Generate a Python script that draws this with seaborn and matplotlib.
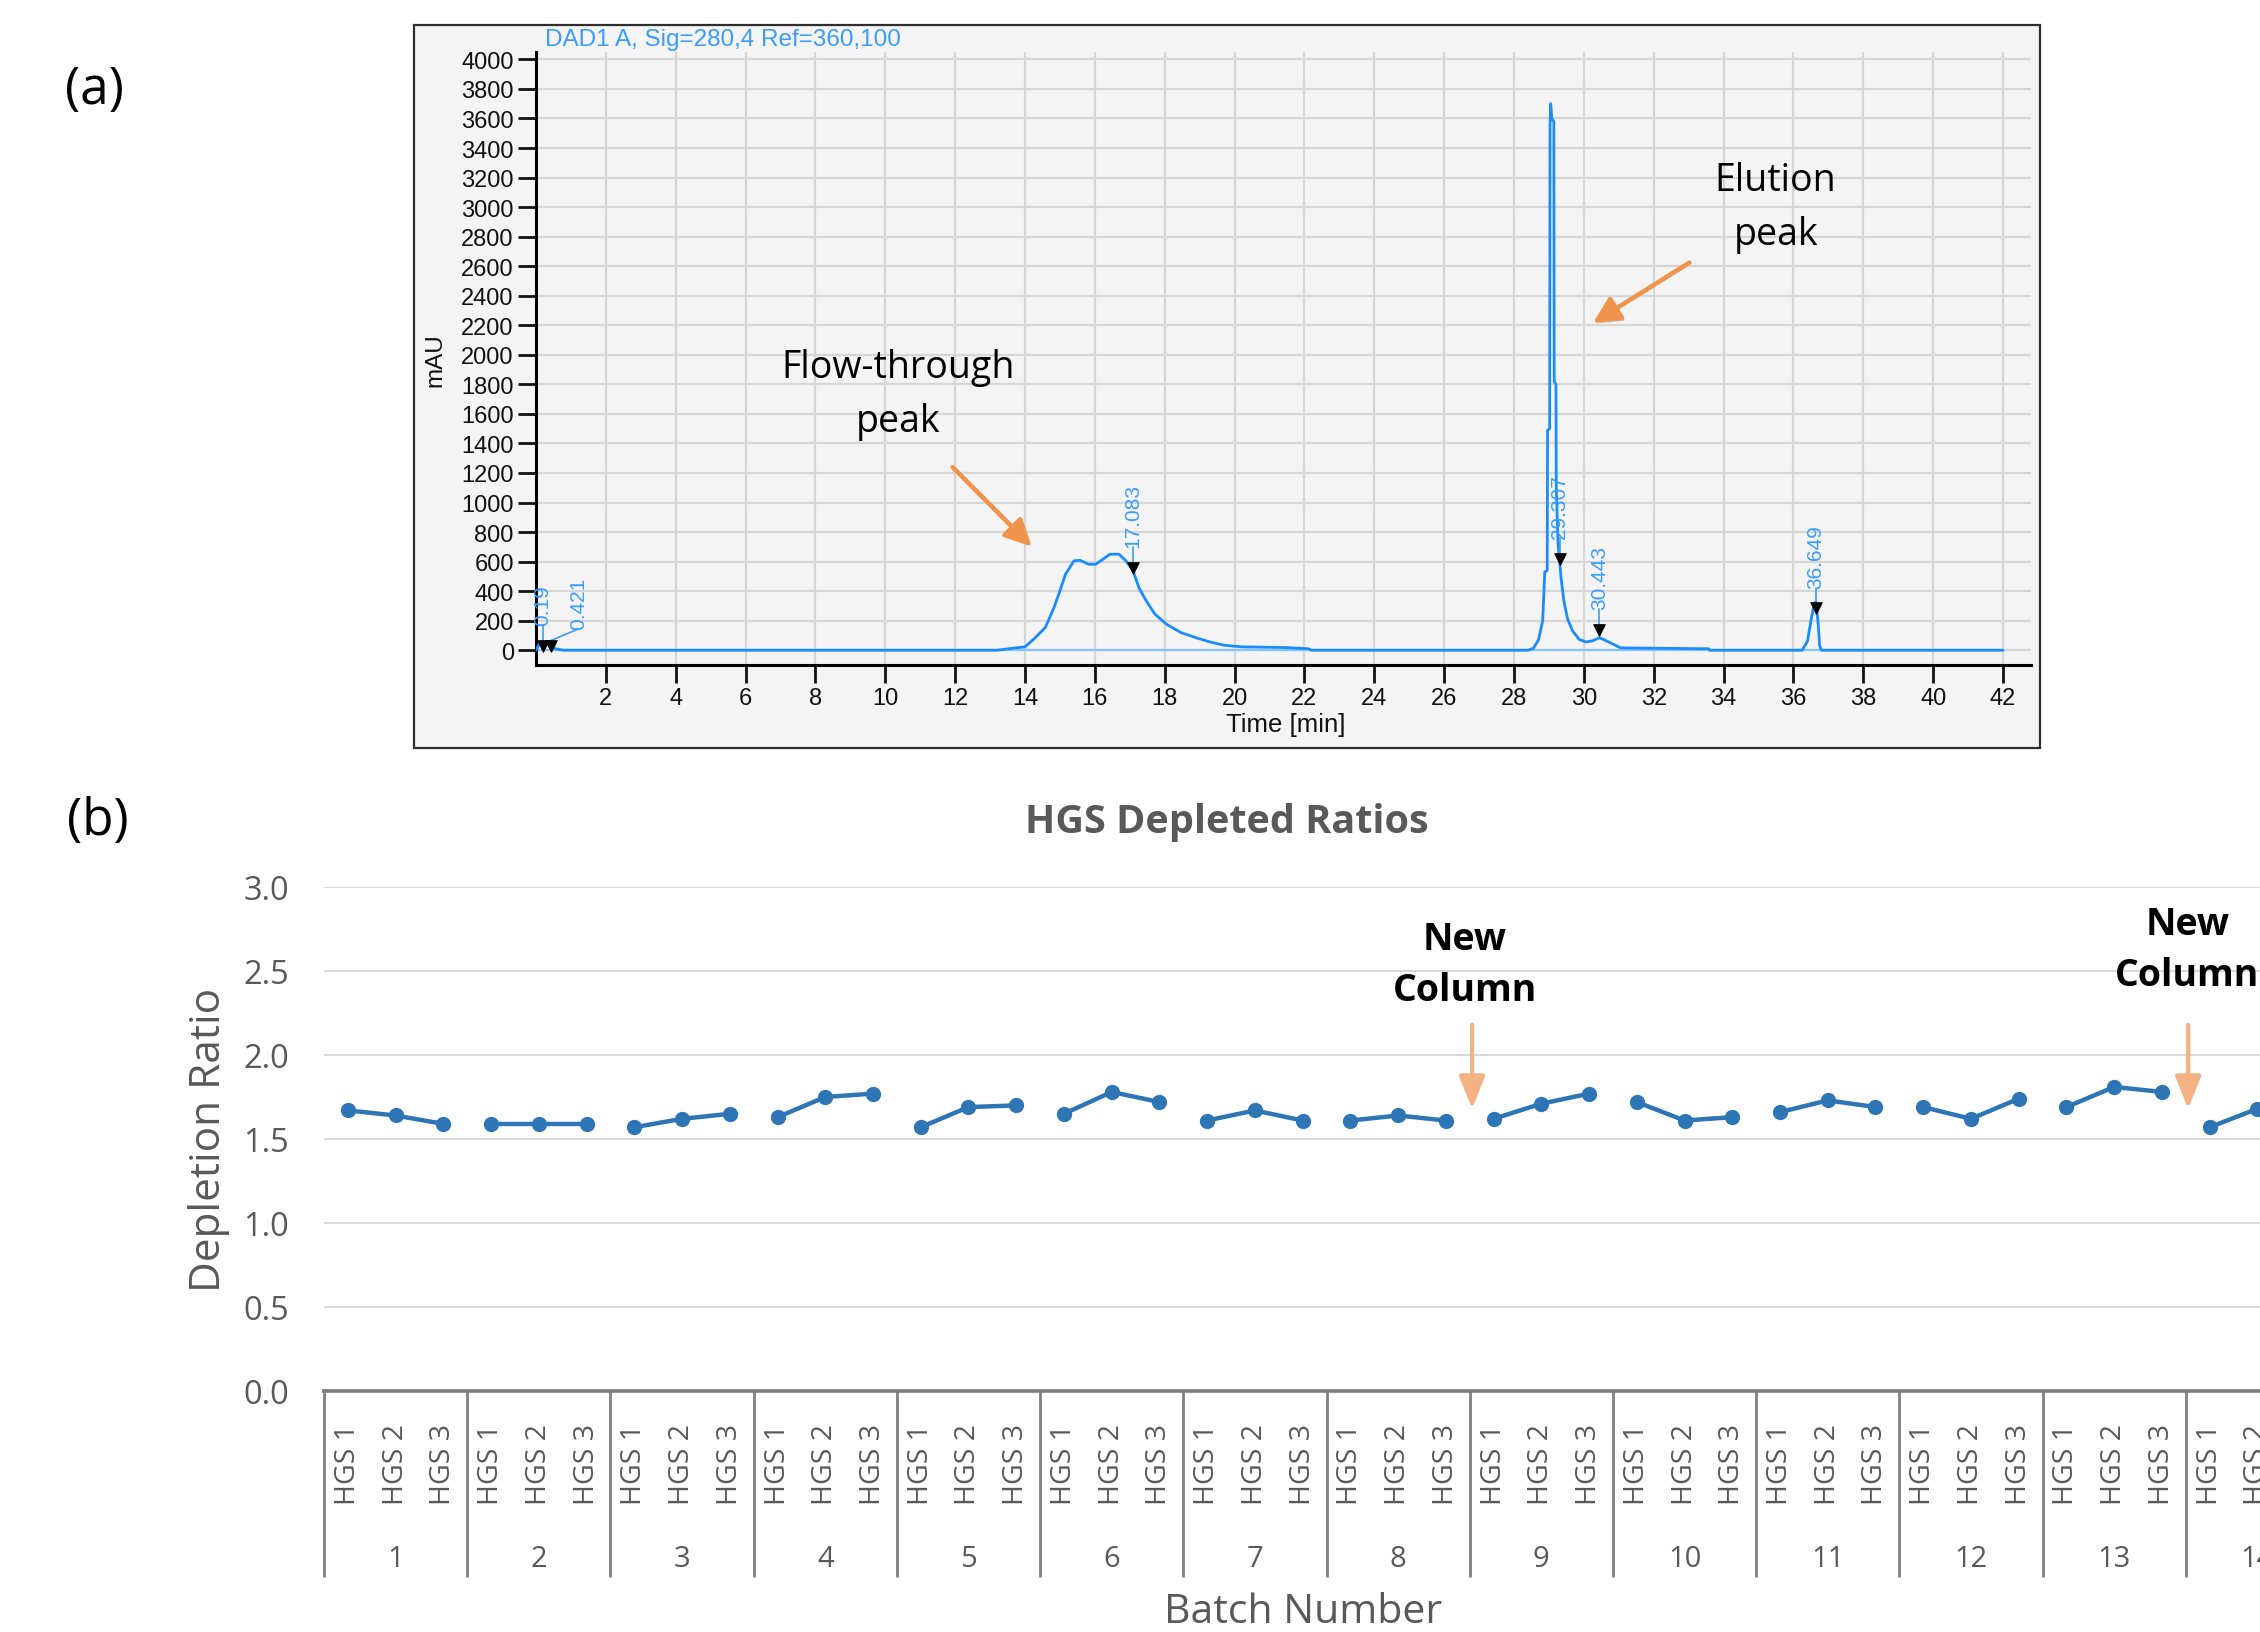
import numpy as np
import pandas as pd
import matplotlib
matplotlib.use("Agg")
import matplotlib.pyplot as plt
import matplotlib.patheffects as pe
from matplotlib.patches import Rectangle
import seaborn as sns

sns.set_style("white")
plt.rcParams["font.family"] = ["Open Sans", "DejaVu Sans"]

W, H = 2260, 1633

# ---------------- (a) HPLC chromatogram, DAD1 A ----------------
time_min = [0.00, 0.10, 0.19, 0.30, 0.42, 0.55, 0.80,
            13.20, 13.67, 14.00, 14.25, 14.58, 14.83, 15.00, 15.16, 15.40, 15.57,
            15.82, 16.02, 16.23, 16.43, 16.69, 16.89, 17.09, 17.26, 17.47, 17.72,
            18.05, 18.46, 18.88, 19.29, 19.70, 20.20, 21.50, 22.10, 22.20,
            28.40, 28.55, 28.70, 28.82, 28.88, 28.95, 28.96, 29.02, 29.03, 29.05,
            29.08, 29.14, 29.15, 29.20, 29.21, 29.26, 29.35, 29.43, 29.53, 29.67,
            29.86, 30.05, 30.24, 30.45, 30.76, 31.05, 33.57, 33.60,
            36.25, 36.40, 36.50, 36.58, 36.64, 36.70, 36.75, 36.80, 42.00]
signal_mau = [0, 45, 55, 40, 35, 10, 0,
              0, 14, 23, 75, 153, 289, 402, 515, 605, 609,
              582, 582, 616, 650, 650, 605, 540, 424, 334, 244,
              176, 120, 86, 56, 34, 23, 18, 10, 0,
              0, 12, 70, 200, 530, 540, 1490, 1500, 3550, 3700,
              3600, 3580, 1820, 1800, 1100, 720, 480, 330, 214, 133,
              74, 56, 63, 85, 50, 16, 10, 0,
              0, 60, 200, 300, 330, 200, 30, 0, 0]

peak_rt = [0.19, 0.421, 17.083, 29.307, 30.443, 36.649]
peak_rt_labels = ["0.19", "0.421", "17.083", "29.307", "30.443", "36.649"]
peak_height_mau = [30, 30, 560, 620, 137, 283]

# ---------------- (b) HGS depletion ratios per batch ----------------
batch_numbers = list(range(1, 15))
sample_names = ["HGS 1", "HGS 2", "HGS 3"]
ratio_hgs1 = [1.67, 1.59, 1.57, 1.63, 1.57, 1.65, 1.61, 1.61, 1.62, 1.72, 1.66, 1.69, 1.69, 1.57]
ratio_hgs2 = [1.64, 1.59, 1.62, 1.75, 1.69, 1.78, 1.67, 1.64, 1.71, 1.61, 1.73, 1.62, 1.81, 1.68]
ratio_hgs3 = [1.59, 1.59, 1.65, 1.77, 1.70, 1.72, 1.61, 1.61, 1.77, 1.63, 1.69, 1.74, 1.78, np.nan]
new_column_batches = [9, 14]

fig = plt.figure(figsize=(W / 100, H / 100), dpi=100, facecolor="white")

SANS_A = ["Liberation Sans", "DejaVu Sans"]


def fig_box(left, top, right, bottom):
    return [left / W, 1 - bottom / H, (right - left) / W, (bottom - top) / H]


# ---- panel (a) ----
fig.add_artist(Rectangle((414 / W, 1 - 749 / H), (2040 - 414) / W, (749 - 26) / H,
                         transform=fig.transFigure, facecolor="#f4f4f4",
                         edgecolor="#2e2e2e", lw=1.6, zorder=0))

ax1 = fig.add_axes(fig_box(536, 53, 2031, 666))
ax1.set_facecolor("#f4f4f4")

chrom = pd.DataFrame({"Time [min]": time_min, "mAU": signal_mau})
ax1.plot([time_min[0], time_min[-1]], [0, 0], color="#86c4ff", lw=1.6, zorder=2)
sns.lineplot(data=chrom, x="Time [min]", y="mAU", ax=ax1, sort=False,
             estimator=None, color="#1a8cff", lw=2.0, zorder=3)

sns.scatterplot(x=peak_rt, y=peak_height_mau, marker="v", color="black",
                s=70, edgecolor="black", ax=ax1, zorder=5)
label_kw = dict(rotation=90, ha="center", va="bottom", fontsize=15,
                color="#3a9cff", family=SANS_A)
for rt, lab, h in zip(peak_rt, peak_rt_labels, peak_height_mau):
    if lab == "0.421":
        ax1.plot([rt - 0.15, rt + 0.75], [h + 20, h + 110], color="#3a9cff", lw=1.2, zorder=4)
        ax1.text(rt + 0.8, h + 115, lab, **label_kw)
    else:
        ax1.plot([rt, rt], [h, h + 140], color="#3a9cff", lw=1.2, zorder=4)
        ax1.text(rt, h + 140, lab, **label_kw)

ax1.set_xlim(0, 42.8)
ax1.set_ylim(-100, 4050)
ax1.set_xticks(np.arange(2, 43, 2))
ax1.set_yticks(np.arange(0, 4001, 200))
ax1.grid(True, color="#d6d6d6", lw=1.6)
ax1.set_axisbelow(True)
for side in ["top", "right"]:
    ax1.spines[side].set_visible(False)
for side in ["left", "bottom"]:
    ax1.spines[side].set_color("black")
    ax1.spines[side].set_linewidth(2.2)
ax1.tick_params(axis="both", direction="out", length=13, width=2, colors="#111111",
                labelsize=17, pad=3, left=True, bottom=True)
for lbl in ax1.get_xticklabels() + ax1.get_yticklabels():
    lbl.set_fontfamily(SANS_A)
ax1.set_xlabel("")
ax1.set_ylabel("")

fig.text(1286 / W, 1 - 725 / H, "Time [min]", ha="center", va="center", fontsize=18.5,
         family=SANS_A, color="#111111")
fig.text(435 / W, 1 - 360 / H, "mAU", ha="center", va="center", rotation=90, fontsize=17.5,
         family=SANS_A, color="#111111")
fig.text(545 / W, 1 - 40 / H, "DAD1 A, Sig=280,4 Ref=360,100", ha="left", va="center",
         fontsize=17.5, color="#3a9cff", family=SANS_A)

ax1.text(10.36, 1737, "Flow-through\npeak", ha="center", va="center", fontsize=27,
         linespacing=1.55, color="black")
ax1.text(35.49, 3000, "Elution\npeak", ha="center", va="center", fontsize=27,
         linespacing=1.55, color="black")
orange_arrow = dict(arrowstyle="-|>,head_length=0.8,head_width=0.4", color="#f0944d",
                    lw=3.3, mutation_scale=20, shrinkA=0, shrinkB=0,
                    path_effects=[pe.SimplePatchShadow(offset=(2, -2), alpha=0.25), pe.Normal()])
ax1.annotate("", xy=(14.19, 702), xytext=(11.93, 1239), arrowprops=orange_arrow)
ax1.annotate("", xy=(30.26, 2215), xytext=(33.02, 2624), arrowprops=orange_arrow)

fig.text(94 / W, 1 - 91 / H, "(a)", ha="center", va="center", fontsize=37, color="black")
fig.text(98 / W, 1 - 822 / H, "(b)", ha="center", va="center", fontsize=37, color="black")

# ---- panel (b) ----
rows = []
for b, v1, v2, v3 in zip(batch_numbers, ratio_hgs1, ratio_hgs2, ratio_hgs3):
    for j, (name, v) in enumerate(zip(sample_names, (v1, v2, v3))):
        rows.append({"batch": b, "sample": name, "pos": (b - 1) * 3 + j, "ratio": v})
ratios = pd.DataFrame(rows)

ax2 = fig.add_axes(fig_box(324, 888, 2329, 1392))
sns.lineplot(data=ratios.dropna(), x="pos", y="ratio", units="batch", estimator=None,
             color="#2e75b6", lw=3.2, marker="o", markersize=11, markeredgewidth=0,
             ax=ax2, zorder=4)

ax2.set_xlim(-0.5, len(ratios) - 0.5)
ax2.set_ylim(0, 3)
yt = np.arange(0, 3.01, 0.5)
ax2.set_yticks(yt)
ax2.set_yticklabels([f"{v:.1f}" for v in yt])
ax2.grid(axis="y", color="#d9d9d9", lw=1.5)
ax2.grid(axis="x", visible=False)
ax2.set_axisbelow(True)
for side in ["top", "right", "left"]:
    ax2.spines[side].set_visible(False)
ax2.spines["bottom"].set_color("#7a7a7a")
ax2.spines["bottom"].set_linewidth(2.6)
ax2.set_xticks(ratios["pos"])
ax2.set_xticklabels(ratios["sample"], rotation=90, va="top", ha="center")
ax2.tick_params(axis="x", length=0, pad=23, labelsize=20.5, labelcolor="#595959")
ax2.tick_params(axis="y", length=0, pad=25, labelsize=23.5, labelcolor="#595959")
ax2.set_xlabel("")
ax2.set_ylabel("")

xax = ax2.get_xaxis_transform()
bounds = [k * 3 - 0.5 for k in range(len(batch_numbers) + 1)]
ax2.vlines(bounds, -0.369, 0, transform=xax, clip_on=False, color="#808080", lw=2)
for b in batch_numbers:
    ax2.text((b - 1) * 3 + 1, -0.332, str(b), transform=xax, ha="center", va="center",
             fontsize=21, color="#595959", clip_on=False)

pale_arrow = dict(arrowstyle="-|>,head_length=1.0,head_width=0.4", color="#f4b183",
                  lw=3, mutation_scale=20, shrinkA=0, shrinkB=0)
for b, y_txt, dx in zip(new_column_batches, [2.54, 2.63], [-0.1, 0.03]):
    xb = (b - 1) * 3 - 0.5
    ax2.text(xb + dx, y_txt, "New\nColumn", ha="center", va="center", fontsize=27,
             fontweight="bold", linespacing=1.45, color="black", clip_on=False)
    ax2.annotate("", xy=(xb + 0.05, 1.68), xytext=(xb + 0.05, 2.18), arrowprops=pale_arrow)

fig.text(1227 / W, 1 - 823 / H, "HGS Depleted Ratios", ha="center", va="center",
         fontsize=28.5, fontweight="bold", color="#595959")
fig.text(209 / W, 1 - 1140 / H, "Depletion Ratio", ha="center", va="center", rotation=90,
         fontsize=30.5, color="#595959")
fig.text(1303 / W, 1 - 1613 / H, "Batch Number", ha="center", va="center",
         fontsize=29.5, color="#595959")

fig.savefig("out.png", dpi=100, facecolor="white")
